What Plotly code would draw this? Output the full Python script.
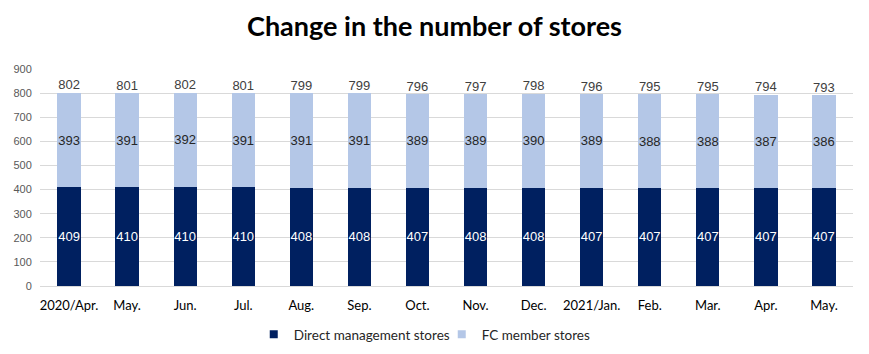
import plotly.graph_objects as go

categories = ["2020/Apr.", "May.", "Jun.", "Jul.", "Aug.", "Sep.", "Oct.", "Nov.", "Dec.",
              "2021/Jan.", "Feb.", "Mar.", "Apr.", "May."]
direct = [409, 410, 410, 410, 408, 408, 407, 408, 408, 407, 407, 407, 407, 407]
fc = [393, 391, 392, 391, 391, 391, 389, 389, 390, 389, 388, 388, 387, 386]
totals = [802, 801, 802, 801, 799, 799, 796, 797, 798, 796, 795, 795, 794, 793]

x_idx = list(range(len(categories)))
DIRECT_COLOR = "#002060"
FC_COLOR = "#b4c7e7"

fig = go.Figure()
fig.add_trace(go.Bar(
    x=x_idx, y=direct, name="Direct management stores", showlegend=False,
    marker=dict(color=DIRECT_COLOR, line=dict(width=0)),
    text=direct, textposition="inside", insidetextanchor="middle",
    constraintext="none", textangle=0,
    textfont=dict(color="white", size=13, family="Liberation Sans"),
))
fig.add_trace(go.Bar(
    x=x_idx, y=fc, name="FC member stores", showlegend=False,
    marker=dict(color=FC_COLOR, line=dict(width=0)),
    text=fc, textposition="inside", insidetextanchor="middle",
    constraintext="none", textangle=0,
    textfont=dict(color="#262626", size=13, family="Liberation Sans"),
))
fig.add_trace(go.Scatter(
    x=x_idx, y=totals, mode="text", text=[str(t) for t in totals],
    textposition="top center", showlegend=False, hoverinfo="skip",
    textfont=dict(color="#404040", size=13, family="Liberation Sans"),
))
# legend entries (square markers)
for name, col in [("Direct management stores", DIRECT_COLOR), ("FC member stores", FC_COLOR)]:
    fig.add_trace(go.Scatter(
        x=[None], y=[None], mode="markers", name=name,
        marker=dict(symbol="square", size=8, color=col),
    ))

fig.update_layout(
    barmode="stack",
    bargap=0.6,
    width=869, height=354,
    margin=dict(l=40, r=16, t=69, b=68, autoexpand=False),
    paper_bgcolor="white", plot_bgcolor="white",
    title=dict(text="<b>Change in the number of stores</b>", x=0.5, xanchor="center",
               y=0.925, yanchor="middle",
               font=dict(size=27, color="black", family="Lato")),
    legend=dict(orientation="h", xref="container", x=0.292, xanchor="left",
                yref="container", y=0.055, yanchor="middle",
                font=dict(size=13.5, color="#262626", family="Lato"),
                itemwidth=30, entrywidth=143, entrywidthmode="pixels",
                tracegroupgap=0, traceorder="normal"),
    xaxis=dict(tickmode="array", tickvals=x_idx, ticktext=categories,
               range=[-0.5, len(categories) - 0.5],
               showgrid=False, showline=True, linecolor="#d9d9d9",
               ticks="outside", ticklen=7, tickcolor="rgba(0,0,0,0)",
               tickfont=dict(size=13, color="black", family="Lato")),
    yaxis=dict(range=[0, 900], dtick=100, showgrid=True, gridcolor="#d9d9d9",
               zeroline=False, ticks="outside", ticklen=5, tickcolor="rgba(0,0,0,0)",
               tickfont=dict(size=11, color="#595959", family="Liberation Sans")),
)

fig.write_html("out.html")
